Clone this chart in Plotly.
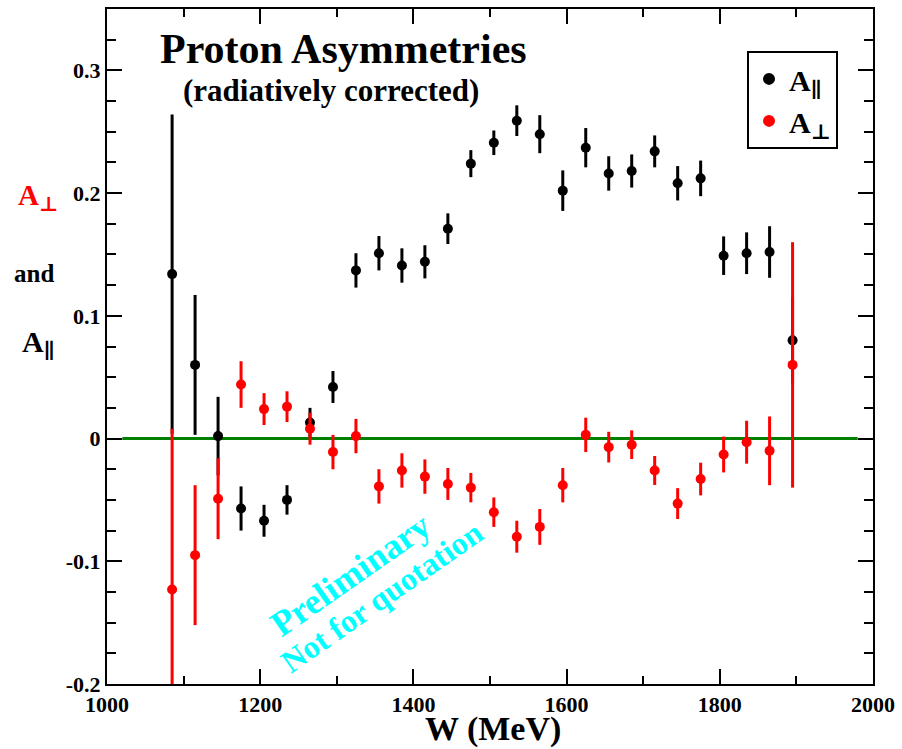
import plotly.graph_objects as go

# ---- data ----
W = [1085, 1115, 1145, 1175, 1205, 1235, 1265, 1295, 1325, 1355, 1385, 1415, 1445, 1475,
     1505, 1535, 1565, 1595, 1625, 1655, 1685, 1715, 1745, 1775, 1805, 1835, 1865, 1895]

A_par = [0.134, 0.060, 0.002, -0.057, -0.067, -0.050, 0.013, 0.042, 0.137, 0.151, 0.141,
         0.144, 0.171, 0.224, 0.241, 0.259, 0.248, 0.202, 0.237, 0.216, 0.218, 0.234,
         0.208, 0.212, 0.149, 0.151, 0.152, 0.080]
A_par_err = [0.130, 0.057, 0.032, 0.018, 0.013, 0.012, 0.012, 0.013, 0.014, 0.014, 0.014,
             0.0135, 0.0125, 0.011, 0.010, 0.0125, 0.0155, 0.0165, 0.016, 0.014, 0.0135,
             0.013, 0.014, 0.0145, 0.0157, 0.017, 0.021, 0.035]

A_perp = [-0.123, -0.095, -0.049, 0.044, 0.024, 0.026, 0.008, -0.011, 0.002, -0.039, -0.026,
          -0.031, -0.037, -0.040, -0.060, -0.080, -0.072, -0.038, 0.003, -0.007, -0.005,
          -0.026, -0.053, -0.033, -0.013, -0.003, -0.010, 0.060]
A_perp_err = [0.131, 0.057, 0.033, 0.019, 0.013, 0.0125, 0.013, 0.014, 0.014, 0.014, 0.014,
              0.014, 0.013, 0.012, 0.012, 0.013, 0.0146, 0.014, 0.014, 0.0125, 0.0117,
              0.0118, 0.0126, 0.0133, 0.0146, 0.0175, 0.028, 0.100]

y_tickvals = [-0.2, -0.1, 0, 0.1, 0.2, 0.3]
y_ticktext = ["-0.2", "-0.1", "0", "0.1", "0.2", "0.3"]
x_tickvals = [1000, 1200, 1400, 1600, 1800, 2000]
x_ticktext = ["1000", "1200", "1400", "1600", "1800", "2000"]

FONT = "Liberation Serif, Times New Roman, DejaVu Serif, serif"

# plot-area geometry in page pixels
L, R, T, B = 107, 873, 7, 684
PW, PH = R - L, B - T


def px(xp):
    return (xp - L) / PW


def py(yp):
    return 1 - (yp - T) / PH


fig = go.Figure()
fig.add_trace(go.Scatter(
    x=W, y=A_par, mode="markers", name="<b>A<sub>∥</sub></b>",
    marker=dict(color="black", size=10, symbol="circle"),
    error_y=dict(type="data", array=A_par_err, color="black", thickness=3, width=0),
))
fig.add_trace(go.Scatter(
    x=W, y=A_perp, mode="markers", name="<b>A<sub>⊥</sub></b>",
    marker=dict(color="red", size=10, symbol="circle"),
    error_y=dict(type="data", array=A_perp_err, color="red", thickness=3, width=0),
))

# zero line
fig.add_shape(type="line", x0=1020, x1=1980, y0=0, y1=0, xref="x", yref="y",
              line=dict(color="#008000", width=3), layer="below")

axis_common = dict(showline=True, linecolor="black", linewidth=2, mirror="ticks",
                   ticks="inside", tickwidth=2, tickcolor="black", ticklen=15,
                   showgrid=False, zeroline=False,
                   tickfont=dict(family=FONT, size=22, color="black", weight="bold"))

fig.update_xaxes(range=[1000, 2000], tickvals=x_tickvals, ticktext=x_ticktext,
                 minor=dict(dtick=100, ticks="inside", ticklen=8, tickwidth=2,
                            tickcolor="black", showgrid=False),
                 **axis_common)
fig.update_yaxes(range=[-0.2, 0.35], tickvals=y_tickvals, ticktext=y_ticktext,
                 minor=dict(dtick=0.025, tick0=0, ticks="inside", ticklen=9, tickwidth=2,
                            tickcolor="black", showgrid=False),
                 **axis_common)


def pann(text, xp, yp, size, color="black"):
    return dict(text=text, x=px(xp), y=py(yp), xref="paper", yref="paper",
                xanchor="center", yanchor="middle", showarrow=False,
                font=dict(family=FONT, size=size, color=color))


ann = [
    pann("<b>Proton Asymmetries</b>", 343, 47, 42),
    pann("<b>(radiatively corrected)</b>", 331, 89, 31),
    pann("<b>A<sub>⊥</sub></b>", 38, 196, 29, "red"),
    pann("<b>and</b>", 34, 272, 25),
    pann("<b>A<sub>∥</sub></b>", 38, 343, 30),
    pann("<b>W (MeV)</b>", 493, 729, 34),
]
# watermark
ann.append(dict(text="<b>Preliminary</b>", x=1317.6, y=-0.1114, xref="x", yref="y",
                xanchor="center", yanchor="middle",
                showarrow=False, textangle=-35,
                font=dict(family=FONT, size=36, color="cyan")))
ann.append(dict(text="<b>Not for quotation</b>", x=1358.5, y=-0.1293, xref="x", yref="y",
                xanchor="center", yanchor="middle",
                showarrow=False, textangle=-35,
                font=dict(family=FONT, size=32, color="cyan")))

fig.update_layout(
    width=902, height=749,
    margin=dict(l=L, r=902 - R, t=T, b=749 - B),
    paper_bgcolor="white", plot_bgcolor="white",
    annotations=ann,
    showlegend=True,
    legend=dict(x=px(747), y=py(49), xanchor="left", yanchor="top",
                bordercolor="black", borderwidth=2, bgcolor="white",
                font=dict(family=FONT, size=30, color="black"),
                itemsizing="constant"),
)

fig.write_html("out.html", config={"displayModeBar": False},
               post_script="document.body.style.margin='0';document.body.style.padding='0';")
